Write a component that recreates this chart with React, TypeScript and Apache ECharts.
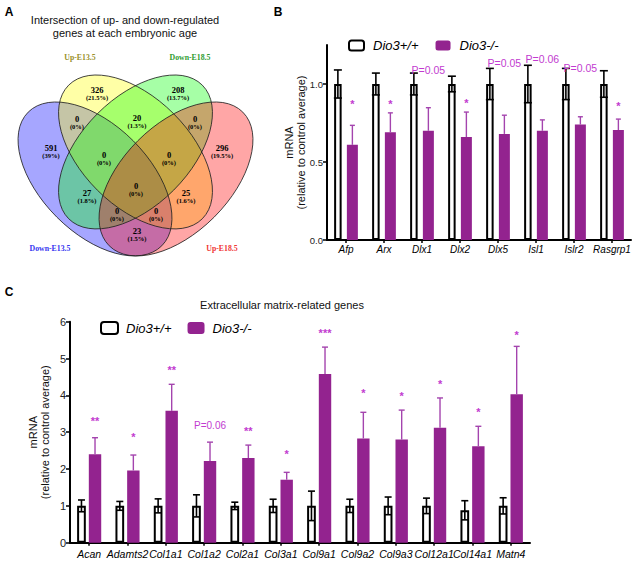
import React, { useEffect, useRef } from 'react';
import * as echarts from 'echarts';

// ---------- Panel A: Venn data ----------
const vennSetNames = ['Down-E13.5', 'Up-E13.5', 'Down-E18.5', 'Up-E18.5'];
const vennCounts = [591, 326, 208, 296, 0, 20, 0, 0, 0, 27, 0, 25, 0, 0, 23];
const vennPercents = ['39%', '21.5%', '13.7%', '19.5%', '0%', '1.3%', '0%', '0%', '0%', '1.8%', '0%', '1.6%', '0%', '0%', '1.5%'];

// ---------- Panel B data ----------
const bGenes = ['Afp', 'Arx', 'Dlx1', 'Dlx2', 'Dlx5', 'Isl1', 'Islr2', 'Rasgrp1'];
const bWtMean = [1, 1, 1, 1, 1, 1, 1, 1];
const bWtErr = [0.09, 0.07, 0.07, 0.05, 0.1, 0.12, 0.1, 0.085];
const bKoMean = [0.61, 0.69, 0.7, 0.66, 0.68, 0.7, 0.74, 0.705];
const bKoErr = [0.125, 0.125, 0.148, 0.16, 0.12, 0.07, 0.05, 0.07];
const bSig = ['*', '*', 'P=0.05', '*', 'P=0.05', 'P=0.06', 'P=0.05', '*'];
const bSigY = [0.89, 0.89, 1.09, 0.9, 1.135, 1.16, 1.1, 0.88];
const bTicks = [0, 0.5, 1];

// ---------- Panel C data ----------
const cGenes = ['Acan', 'Adamts2', 'Col1a1', 'Col1a2', 'Col2a1', 'Col3a1', 'Col9a1', 'Col9a2', 'Col9a3', 'Col12a1', 'Col14a1', 'Matn4'];
const cWtMean = [1, 1, 1, 1, 1, 1, 1, 1, 1, 1, 0.88, 1];
const cWtErr = [0.16, 0.12, 0.19, 0.3, 0.1, 0.18, 0.4, 0.18, 0.24, 0.21, 0.26, 0.22];
const cKoMean = [2.4, 1.96, 3.58, 2.22, 2.3, 1.71, 4.58, 2.83, 2.8, 3.12, 2.62, 4.03];
const cKoErr = [0.45, 0.42, 0.72, 0.51, 0.35, 0.2, 0.73, 0.71, 0.8, 0.81, 0.54, 1.3];
const cSig = ['**', '*', '**', 'P=0.06', '**', '*', '***', '*', '*', '*', '*', '*'];
const cSigY = [3.39, 2.96, 4.79, 3.19, 3.13, 2.49, 5.77, 4.16, 4.08, 4.41, 3.64, 5.74];

const seriesNames = ['Dio3+/+', 'Dio3-/-'];

// ---------- styles / layout ----------
const SANS = '"Liberation Sans", Arial, sans-serif';
const SERIF = '"Liberation Serif", "Times New Roman", serif';
const PURPLE = '#93238f';
const PURPLE_LINE = '#a444ae';
const SIG = '#c23bd0';

// Venn geometry (VennDiagram-style unit coordinates) and mapping to pixels
const vennEllipses = [
  { cx: 0.35, cy: 0.47, rot: -Math.PI / 4, fill: 'rgba(0,0,255,0.35)' },
  { cx: 0.5, cy: 0.57, rot: -Math.PI / 4, fill: 'rgba(255,255,0,0.35)' },
  { cx: 0.5, cy: 0.57, rot: Math.PI / 4, fill: 'rgba(0,255,0,0.35)' },
  { cx: 0.65, cy: 0.47, rot: Math.PI / 4, fill: 'rgba(255,0,0,0.35)' },
];
const VA = 0.35, VB = 0.2, VS = 270, VX0 = 135.5, VY0 = 305.85;
const vx = (u: number) => VX0 + (u - 0.5) * VS;
const vy = (u: number) => VY0 - u * VS;
const vennSetLabelPos = [[50, 248], [80, 57], [190, 57], [222, 248]];
const vennSetColors = ['#3535f0', '#9a912a', '#2e9c2e', '#f03535'];
const vennRegionPos = [
  [51, 148], [97, 90], [178, 90], [222, 148], [77, 119], [137, 118], [195, 119],
  [104, 155], [169, 155], [87, 193], [136, 186], [186, 193], [117, 211], [156, 211], [137, 231],
];

function barOffsets(wW: number, wK: number, gap: number) {
  const sum = wW * (1 + gap) + wK;
  const start = -sum / 2;
  return { wt: start + wW / 2, ko: start + wW * (1 + gap) + wK / 2 };
}

function errorSeries(
  idx: number, wtMean: number[], wtErr: number[], koMean: number[], koErr: number[],
  sig: string[], sigY: number[], off: { wt: number; ko: number }, wtCap: number, koCap: number,
  starSize: number, pSize: number
) {
  return {
    type: 'custom',
    xAxisIndex: idx,
    yAxisIndex: idx,
    z: 5,
    silent: true,
    clip: false,
    data: wtMean.map((v, i) => [i, v]),
    renderItem: (params: any, api: any) => {
      const i = params.dataIndex;
      const c = api.coord([i, 0])[0];
      const wx = c + off.wt;
      const kx = c + off.ko;
      const wHi = api.coord([i, wtMean[i] + wtErr[i]])[1];
      const wLo = api.coord([i, wtMean[i] - wtErr[i]])[1];
      const kTop = api.coord([i, koMean[i]])[1];
      const kHi = api.coord([i, koMean[i] + koErr[i]])[1];
      const sY = api.coord([i, sigY[i]])[1];
      const blk = { stroke: '#000', lineWidth: 1.6 };
      const pur = { stroke: PURPLE_LINE, lineWidth: 1.4 };
      const isStar = sig[i].charAt(0) === '*';
      return {
        type: 'group',
        children: [
          { type: 'line', shape: { x1: wx, y1: wLo, x2: wx, y2: wHi }, style: blk },
          { type: 'line', shape: { x1: wx - wtCap / 2, y1: wHi, x2: wx + wtCap / 2, y2: wHi }, style: blk },
          { type: 'line', shape: { x1: wx - wtCap / 2, y1: wLo, x2: wx + wtCap / 2, y2: wLo }, style: blk },
          { type: 'line', shape: { x1: kx, y1: kTop, x2: kx, y2: kHi }, style: pur },
          { type: 'line', shape: { x1: kx - koCap / 2, y1: kHi, x2: kx + koCap / 2, y2: kHi }, style: pur },
          {
            type: 'text',
            x: kx,
            y: sY + (isStar ? starSize * 0.3 : 0),
            style: {
              text: sig[i],
              fill: SIG,
              font: isStar ? `bold ${starSize}px ${SANS}` : `${pSize}px ${SANS}`,
              align: 'center',
              verticalAlign: 'middle',
            },
          },
        ],
      };
    },
  };
}

export default function App() {
  const ref = useRef<HTMLDivElement>(null);
  useEffect(() => {
    if (!ref.current) return;
    const chart = echarts.init(ref.current, null, { renderer: 'svg' });

    const bOff = barOffsets(7.5, 11, 0.7);
    const cOff = barOffsets(8.7, 12.4, 0.345);

    const graphics: any[] = [];
    // Venn fills
    vennEllipses.forEach((e) => {
      graphics.push({
        type: 'ellipse', x: vx(e.cx), y: vy(e.cy), rotation: e.rot, silent: true,
        shape: { cx: 0, cy: 0, rx: VA * VS, ry: VB * VS },
        style: { fill: e.fill, stroke: 'none' },
      });
    });
    vennEllipses.forEach((e) => {
      graphics.push({
        type: 'ellipse', x: vx(e.cx), y: vy(e.cy), rotation: e.rot, silent: true,
        shape: { cx: 0, cy: 0, rx: VA * VS, ry: VB * VS },
        style: { fill: 'none', stroke: '#222', lineWidth: 0.8 },
      });
    });
    vennCounts.forEach((n, i) => {
      const [px, py] = vennRegionPos[i];
      graphics.push({
        type: 'text', x: px, y: py, silent: true,
        style: { text: String(n), font: `bold 8.5px ${SERIF}`, fill: '#000', align: 'center', verticalAlign: 'middle' },
      });
      graphics.push({
        type: 'text', x: px, y: py + 7.5, silent: true,
        style: { text: `(${vennPercents[i]})`, font: `bold 6.5px ${SERIF}`, fill: '#000', align: 'center', verticalAlign: 'middle' },
      });
    });
    vennSetNames.forEach((s, i) => {
      graphics.push({
        type: 'text', x: vennSetLabelPos[i][0], y: vennSetLabelPos[i][1], silent: true,
        style: { text: s, font: `bold 7.8px ${SERIF}`, fill: vennSetColors[i], align: 'center', verticalAlign: 'middle' },
      });
    });
    // titles & panel letters
    graphics.push(
      { type: 'text', x: 125, y: 20, style: { text: 'Intersection of up- and down-regulated', font: `11px ${SANS}`, fill: '#111', align: 'center', verticalAlign: 'middle' } },
      { type: 'text', x: 125, y: 33, style: { text: 'genes at each embryonic age', font: `11px ${SANS}`, fill: '#111', align: 'center', verticalAlign: 'middle' } },
      { type: 'text', x: 282, y: 305, style: { text: 'Extracellular matrix-related genes', font: `11px ${SANS}`, fill: '#111', align: 'center', verticalAlign: 'middle' } },
      { type: 'text', x: 9, y: 12, style: { text: 'A', font: `bold 12px ${SANS}`, fill: '#000', align: 'center', verticalAlign: 'middle' } },
      { type: 'text', x: 278, y: 12, style: { text: 'B', font: `bold 12px ${SANS}`, fill: '#000', align: 'center', verticalAlign: 'middle' } },
      { type: 'text', x: 9, y: 292, style: { text: 'C', font: `bold 12px ${SANS}`, fill: '#000', align: 'center', verticalAlign: 'middle' } },
    );

    const axisLine = { show: true, lineStyle: { color: '#000', width: 2 } };
    const legendData = [
      { name: seriesNames[0], itemStyle: { color: '#fff', borderColor: '#000', borderWidth: 2 } },
      { name: seriesNames[1], itemStyle: { color: PURPLE, borderWidth: 0 } },
    ];

    const yName = 'mRNA\n(relative to control average)';

    const option: any = {
      animation: false,
      textStyle: { fontFamily: SANS },
      graphic: graphics,
      legend: [
        {
          data: legendData, left: 348, top: 39, padding: 0, orient: 'horizontal',
          itemWidth: 15, itemHeight: 10, itemGap: 17, selectedMode: false,
          textStyle: { fontStyle: 'italic', fontWeight: 'normal', fontSize: 13, color: '#000', padding: [0, 0, 0, 4], fontFamily: SANS },
        },
        {
          data: legendData, left: 100, top: 321, padding: 0, orient: 'horizontal',
          itemWidth: 17, itemHeight: 12, itemGap: 16, selectedMode: false,
          textStyle: { fontStyle: 'italic', fontWeight: 'normal', fontSize: 13, color: '#000', padding: [0, 0, 0, 3], fontFamily: SANS },
        },
      ],
      grid: [
        { left: 327, top: 45, width: 304, height: 195 },
        { left: 70, top: 321.7, width: 460, height: 221 },
      ],
      xAxis: [
        {
          type: 'category', gridIndex: 0, data: bGenes, axisLine,
          axisTick: { show: true, alignWithLabel: true, length: 3, lineStyle: { color: '#000', width: 1.5 } },
          axisLabel: { interval: 0, fontStyle: 'italic', fontSize: 10, color: '#000', margin: 4 },
        },
        {
          type: 'category', gridIndex: 1, data: cGenes, axisLine,
          axisTick: { show: true, alignWithLabel: true, length: 3, lineStyle: { color: '#000', width: 1.5 } },
          axisLabel: { interval: 0, fontStyle: 'italic', fontSize: 10.5, color: '#000', margin: 6 },
        },
      ],
      yAxis: [
        {
          type: 'value', gridIndex: 0, min: 0, max: 1.25, interval: 0.5, axisLine,
          axisTick: { show: true, length: 4, customValues: bTicks, lineStyle: { color: '#000', width: 1.5 } },
          axisLabel: { customValues: bTicks, formatter: (v: number) => v.toFixed(1), fontSize: 9.5, color: '#222', margin: 4 },
          splitLine: { show: false },
          name: yName, nameLocation: 'middle', nameRotate: 90, nameGap: 20, nameMoveOverlap: false,
          nameTextStyle: { fontSize: 11, lineHeight: 12, color: '#111', align: 'center' },
        },
        {
          type: 'value', gridIndex: 1, min: 0, max: 6, interval: 1, axisLine,
          axisTick: { show: true, length: 4, lineStyle: { color: '#000', width: 1.5 } },
          axisLabel: { fontSize: 11, color: '#222', margin: 4 },
          splitLine: { show: false },
          name: yName, nameLocation: 'middle', nameRotate: 90, nameGap: 19, nameMoveOverlap: false,
          nameTextStyle: { fontSize: 11, lineHeight: 12, color: '#111', align: 'center' },
        },
      ],
      series: [
        {
          name: seriesNames[0], type: 'bar', xAxisIndex: 0, yAxisIndex: 0, data: bWtMean,
          barWidth: 7.5, barGap: '70%',
          itemStyle: { color: '#fff', borderColor: '#000', borderWidth: 2 },
        },
        {
          name: seriesNames[1], type: 'bar', xAxisIndex: 0, yAxisIndex: 0, data: bKoMean,
          barWidth: 11, barGap: '70%', itemStyle: { color: PURPLE },
        },
        errorSeries(0, bWtMean, bWtErr, bKoMean, bKoErr, bSig, bSigY, bOff, 8, 5, 11, 10.5),
        {
          name: seriesNames[0], type: 'bar', xAxisIndex: 1, yAxisIndex: 1, data: cWtMean,
          barWidth: 8.7, barGap: '34.5%',
          itemStyle: { color: '#fff', borderColor: '#000', borderWidth: 2 },
        },
        {
          name: seriesNames[1], type: 'bar', xAxisIndex: 1, yAxisIndex: 1, data: cKoMean,
          barWidth: 12.4, barGap: '34.5%', itemStyle: { color: PURPLE },
        },
        errorSeries(1, cWtMean, cWtErr, cKoMean, cKoErr, cSig, cSigY, cOff, 7, 6, 11, 10),
      ],
    };
    chart.setOption(option);
    return () => chart.dispose();
  }, []);
  return <div ref={ref} style={{ position: 'fixed', left: 0, top: 0, width: 636, height: 564, background: '#fff' }} />;
}
